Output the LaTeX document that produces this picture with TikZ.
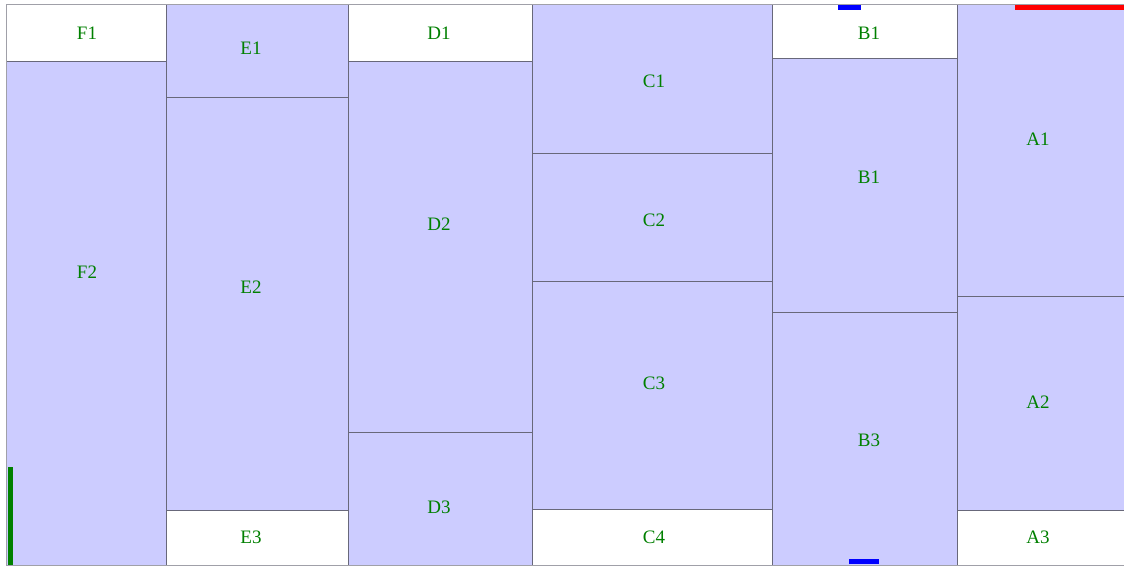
\documentclass[tikz,border=0pt]{standalone}
\usepackage{fontspec}
\setmainfont{Liberation Serif}
\definecolor{lav}{HTML}{CCCCFF}
\definecolor{edge}{HTML}{68687A}
\definecolor{frame}{HTML}{A0A0A8}
\definecolor{lbl}{HTML}{008000}
\begin{document}
\begin{tikzpicture}[x=1pt,y=-1pt,
  cellbox/.style={draw=edge,line width=0.9pt,inner sep=0pt,outer sep=0pt,anchor=north west},
  lavcell/.style={cellbox,fill=lav},
  whitecell/.style={cellbox,fill=white},
  lbltext/.style={text=lbl,font=\fontsize{19}{19}\selectfont,inner sep=0pt}]
\useasboundingbox (0,0) rectangle (1124,566);
% column F
\node[whitecell,minimum width=160,minimum height=57] (f1) at (6,4) {};
\node[lavcell,minimum width=160,minimum height=504] (f2) at (6,61) {};
% column E
\node[lavcell,minimum width=182,minimum height=93] (e1) at (166,4) {};
\node[lavcell,minimum width=182,minimum height=413] (e2) at (166,97) {};
\node[whitecell,minimum width=182,minimum height=55] (e3) at (166,510) {};
% column D
\node[whitecell,minimum width=184,minimum height=57] (d1) at (348,4) {};
\node[lavcell,minimum width=184,minimum height=371] (d2) at (348,61) {};
\node[lavcell,minimum width=184,minimum height=133] (d3) at (348,432) {};
% column C
\node[lavcell,minimum width=240,minimum height=149] (c1) at (532,4) {};
\node[lavcell,minimum width=240,minimum height=128] (c2) at (532,153) {};
\node[lavcell,minimum width=240,minimum height=228] (c3) at (532,281) {};
\node[whitecell,minimum width=240,minimum height=56] (c4) at (532,509) {};
% column B
\node[whitecell,minimum width=185,minimum height=54] (b0) at (772,4) {};
\node[lavcell,minimum width=185,minimum height=254] (b1) at (772,58) {};
\node[lavcell,minimum width=185,minimum height=253] (b3) at (772,312) {};
% column A
\node[lavcell,minimum width=170,minimum height=292] (a1) at (957,4) {};
\node[lavcell,minimum width=170,minimum height=214] (a2) at (957,296) {};
\node[whitecell,minimum width=170,minimum height=55] (a3) at (957,510) {};
% outer frame
\draw[frame,line width=0.9pt] (6,4) -- (1124,4);
\draw[frame,line width=0.9pt] (6,565) -- (1124,565);
\draw[frame,line width=0.9pt] (6,4) -- (6,565);
% labels
\node[lbltext] (tf1) at (87,33) {F1};
\node[lbltext] (tf2) at (87,272) {F2};
\node[lbltext] (te1) at (251,48) {E1};
\node[lbltext] (te2) at (251,287) {E2};
\node[lbltext] (te3) at (251,537) {E3};
\node[lbltext] (td1) at (439,33) {D1};
\node[lbltext] (td2) at (439,224) {D2};
\node[lbltext] (td3) at (439,507) {D3};
\node[lbltext] (tc1) at (654,81) {C1};
\node[lbltext] (tc2) at (654,220) {C2};
\node[lbltext] (tc3) at (654,383) {C3};
\node[lbltext] (tc4) at (654,537) {C4};
\node[lbltext] (tb0) at (869,33) {B1};
\node[lbltext] (tb1) at (869,177) {B1};
\node[lbltext] (tb3) at (869,440) {B3};
\node[lbltext] (ta1) at (1038,139) {A1};
\node[lbltext] (ta2) at (1038,402) {A2};
\node[lbltext] (ta3) at (1038,537) {A3};
% markers
\fill[blue] (838,5) rectangle (861,9.5);
\fill[red] (1015,5) rectangle (1124,9.5);
\fill[green!50!black] (7.5,467) rectangle (12.5,565);
\fill[blue] (849,559) rectangle (879,563.5);
\end{tikzpicture}
\end{document}
